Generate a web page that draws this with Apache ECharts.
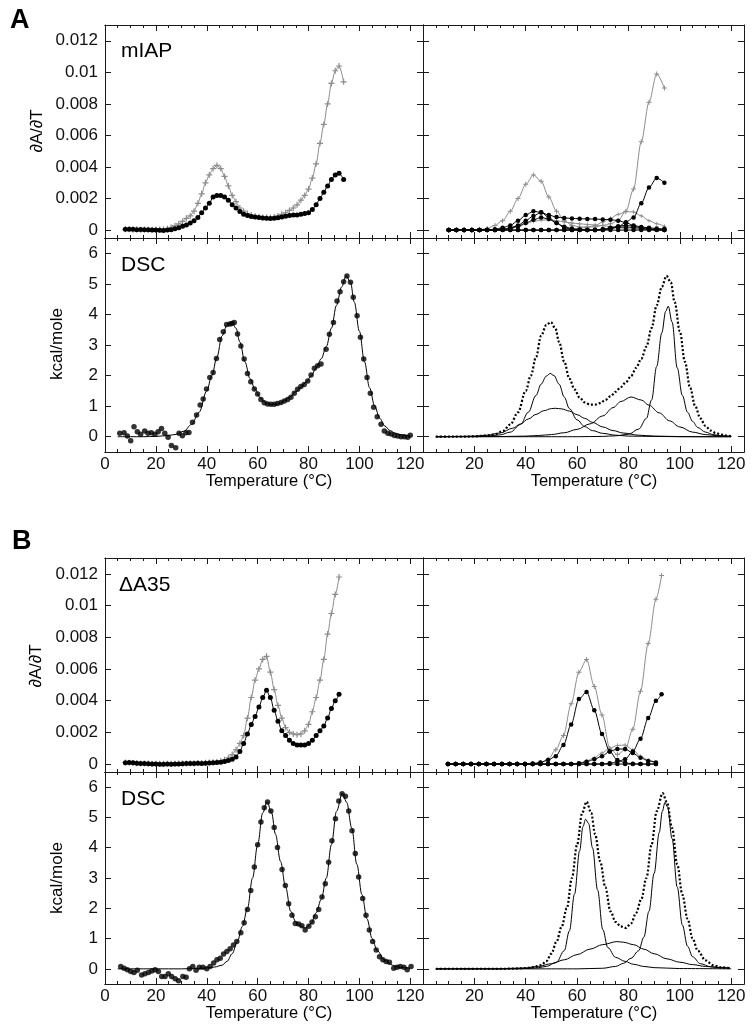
<!DOCTYPE html>
<html><head><meta charset="utf-8">
<script src="https://cdn.jsdelivr.net/npm/echarts@6/dist/echarts.min.js"></script>
<style>html,body{margin:0;padding:0;background:#fff}#c{width:755px;height:1032px}</style>
</head><body><div id="c"></div>
<script>
// ---------------- tick labels ----------------
const tempTicks = [0,20,40,60,80,100,120];
const tempLabelsRight = [20,40,60,80,100,120];
const tempMinor = [0,5,10,15,20,25,30,35,40,45,50,55,60,65,70,75,80,85,90,95,100,105,110,115,120,125];
const dadtTicks = [0,0.002,0.004,0.006,0.008,0.01,0.012];
const dscTicks = [0,1,2,3,4,5,6];

// ---------------- Panel A : scans (left) ----------------
const scanT_A = [8,9.5,11,12.5,14,15.5,17,18.5,20,21.5,23,24.5,26,27.5,29,30.5,32,33.5,35,36.5,38,39.5,41,42.5,44,45.5,47,48.5,50,51.5,53,54.5,56,57.5,59,60.5,62,63.5,65,66.5,68,69.5,71,72.5,74,75.5,77,78.5,80,81.5,83,84.5,86,87.5,89,90.5,92,93.8];
const scanBlack_A = [0.00005,0.00005,0.00006,0.00002,0.00004,0.00003,0.00003,0.00001,0.00001,-0.00001,
  -0.00002,0.00001,0.00003,0.00008,0.00015,0.00025,0.00033,0.00045,0.0006,0.0008,
  0.0011,0.0014,0.0017,0.0021,0.0022,0.0022,0.0021,0.0019,0.0016,0.0014,
  0.00118,0.001,0.00093,0.00087,0.00083,0.0008,0.00077,0.00075,0.00074,0.00075,
  0.00078,0.00083,0.00088,0.00093,0.00096,0.00096,0.001,0.00105,0.0011,0.0013,
  0.0016,0.002,0.0024,0.0028,0.0032,0.0035,0.0036,0.0032];
const scanGray_A = [0.00005,0.00005,0.00003,0.00005,0.00003,0.00004,0.00002,0.00003,0.00002,0.00004,
  0.00006,0.0001,0.00018,0.00028,0.0004,0.00055,0.00075,0.0009,0.0012,0.0017,
  0.0023,0.003,0.0035,0.0039,0.0041,0.0039,0.0034,0.0028,0.0022,0.0018,
  0.0014,0.0012,0.00105,0.00095,0.00088,0.00083,0.0008,0.0008,0.0008,0.00083,
  0.0009,0.001,0.0011,0.00125,0.0014,0.0016,0.0019,0.0022,0.0026,0.0033,
  0.0042,0.0055,0.0067,0.008,0.0093,0.0101,0.0104,0.0094];

// ---------------- Panel A : scan components (right) ----------------
const compT_A = [10,13,16,19,22,25,28,31,34,37,40,43,46,49,52,55,58,61,64,67,70,73,76,79,82,85,88,91,94];
const compFlat_A = [0,0,0,0,0,0,0,0,0,0,0,0,0,0,0,0,0,0,0,0,0,0,0,0,0,0,0,0,0];
const compGrayTotal_A = [0,0,0,0,0.00002,0.0001,0.0003,0.0006,0.0012,0.002,0.0029,0.0035,0.0031,0.0021,0.0012,0.0006,0.0003,0.0002,0.0002,0.0002,0.0003,0.0004,0.0006,0.0012,0.0026,0.0056,0.0081,0.0099,0.009];
const compBlackHigh_A = [0,0,0,0,0,0,0,0,0,0,0,0,0,0,0,0,0,0,0,0,0.00005,0.0001,0.0002,0.0005,0.0008,0.0017,0.0027,0.0033,0.003];
const compBlackA_A = [0,0,0,0,0,0.00002,0.00006,0.00015,0.0003,0.0006,0.00095,0.0012,0.00112,0.00095,0.00083,0.00077,0.00074,0.00072,0.00071,0.0007,0.00068,0.00066,0.0006,0.00047,0.0003,0.0002,0.00015,0.0001,0.00008];
const compBlackB_A = [0,0,0,0,0,0,0,0.00005,0.00015,0.0003,0.0006,0.0009,0.00113,0.0008,0.00045,0.00015,0.00005,0.00002,0,0,0.00005,0.00015,0.00025,0.0003,0.00025,0.00015,0.00008,0.00004,0];
const compBlackC_A = [0,0,0,0,0,0,0,0.00003,0.0001,0.00025,0.00045,0.00065,0.0008,0.0007,0.00045,0.00022,0.0001,0.00004,0,0,0,0.0001,0.00018,0.0002,0.00016,0.0001,0.00005,0.00002,0];
const compGray1_A = [0,0,0,0,0,0,0,0,0.0001,0.0002,0.0004,0.00055,0.00063,0.00065,0.0006,0.00052,0.00045,0.0004,0.00036,0.00032,0.00028,0.00022,0.00016,0.0001,0.00006,0.00004,0.00002,0,0];
const compGray2_A = [0,0,0,0,0,0,0,0,0,0,0,0,0,0,0,0,0.00005,0.0001,0.00018,0.0003,0.0005,0.00075,0.001,0.00117,0.00115,0.0009,0.0006,0.0004,0.00025];

// ---------------- Panel A : DSC ----------------
const dscT_A = [5.8,7.5,8.8,10.1,11.4,12.7,14,15.6,16.9,18.2,19.6,20.9,22.2,23.5,24.8,26.1,27.8,29.1,30.4,31.8,33,34.4,36,37.4,38.6,39.9,41.2,42.5,43.8,45.1,46.5,47.8,49.1,49.9,50.8,52.1,53.4,54.7,56,57.3,58.7,60,61.3,62.6,63.9,65.2,66.5,67.8,69.2,70.5,71.8,73.1,74.4,75.7,77,78.3,79.7,81,82.3,83.6,84.9,86.9,88.2,89.8,91.2,92.4,93.8,95.1,96.5,97.6,99.1,100.4,101.7,103,104.3,105.6,107,108.5,109.8,111.2,112.5,113.8,115.1,116.4,117.7,119,120];
const dscV_A = [0.11,0.13,0.02,-0.13,0.33,0.16,0.08,0.19,0.11,0.13,0.08,0.16,0.27,0.11,-0.02,-0.29,-0.36,0.11,0.03,0.13,0.14,0.47,0.71,1.04,1.23,1.56,1.94,2.1,2.56,3.18,3.43,3.67,3.69,3.7,3.74,3.36,2.97,2.54,2.07,1.8,1.56,1.4,1.22,1.11,1.07,1.06,1.06,1.09,1.12,1.17,1.22,1.29,1.42,1.55,1.64,1.71,1.82,2.02,2.24,2.32,2.38,2.86,3.35,3.74,4.44,4.74,5.07,5.26,5.05,4.56,3.96,3.25,2.54,1.94,1.42,0.96,0.65,0.41,0.19,0.11,0.09,0.04,0.02,0,0,-0.02,0.05];
const fitT_A = [5,10,15,20,25,28,31,34,37,40,42,44,46,48,49.8,51.5,53,55,57,59,61,63,65,67,69,71,73,75,77,79,81,83,85,87,89,91,93,94.8,96.5,98,100,102,104,106,108,110,112,114,116,118,120];
const fitV_A = [0,0,0,0.01,0.04,0.08,0.18,0.4,0.8,1.5,2.0,2.6,3.3,3.65,3.75,3.55,3.1,2.45,1.9,1.55,1.28,1.12,1.05,1.05,1.1,1.2,1.32,1.47,1.62,1.78,1.98,2.25,2.55,2.95,3.55,4.3,4.9,5.26,5.05,4.4,3.45,2.45,1.6,1.0,0.6,0.35,0.2,0.12,0.07,0.04,0.02];
const c1T_A = [5,20,25,30,34,38,41,44,46,48,49.5,51,53,55,57,60,63,66,70,75,80,90,100,120];
const c1V_A = [0,0.01,0.02,0.06,0.15,0.4,0.8,1.35,1.72,1.98,2.07,2.0,1.72,1.3,0.92,0.55,0.33,0.2,0.11,0.05,0.02,0.01,0,0];
const c2T_A = [5,15,20,25,30,35,38,41,44,47,50,51.5,54,57,60,63,66,70,74,78,84,90,100,110,120];
const c2V_A = [0,0.01,0.02,0.05,0.12,0.28,0.42,0.58,0.73,0.85,0.92,0.93,0.91,0.84,0.72,0.6,0.47,0.32,0.2,0.12,0.05,0.02,0.005,0,0];
const c3T_A = [5,30,40,45,50,55,60,65,70,74,77,81,85,88,92,96,100,105,110,115,120];
const c3V_A = [0,0.005,0.02,0.04,0.07,0.13,0.24,0.42,0.68,0.95,1.15,1.3,1.2,1.03,0.78,0.52,0.32,0.15,0.07,0.03,0.01];
const c4T_A = [5,60,70,75,80,84,87,89,91,93,94.5,95.5,97,99,101,103,105,107,110,113,116,120];
const c4V_A = [0,0,0.01,0.03,0.08,0.25,0.6,1.2,2.3,3.4,4.1,4.27,3.75,2.25,1.35,0.8,0.5,0.3,0.15,0.07,0.03,0.01];

// ---------------- Panel B : scans (left) ----------------
const scanT_B = [8,9.5,11,12.5,14,15.5,17,18.5,20,21.5,23,24.5,26,27.5,29,30.5,32,33.5,35,36.5,38,39.5,41,42.5,44,45.5,47,48.5,50,51.5,53,54.5,56,57.5,59,60.5,62,63.5,65,66.5,68,69.5,71,72.5,74,75.5,77,78.5,80,81.5,83,84.5,86,87.5,89,90.5,92];
const scanBlack_B = [0.00008,0.0001,0.00008,0.00005,0.00004,0.00003,0.00002,0.00001,0,-0.00001,
  -0.00001,0,-0.00001,0,0.00001,0.00002,0.00003,0.00004,0.00004,0.00005,
  0.00004,0.00005,0.00006,0.00008,0.0001,0.00012,0.00016,0.00022,0.0003,0.00045,
  0.0008,0.0013,0.0019,0.0025,0.003,0.0036,0.0042,0.00465,0.0042,0.0034,
  0.0027,0.0021,0.0018,0.0015,0.0013,0.0012,0.0012,0.0012,0.0013,0.0015,
  0.0018,0.0021,0.0024,0.0029,0.0035,0.004,0.0044];
const scanGray_B = [0.0001,0.00008,0.00006,0.00005,0.00004,0.00003,0.00003,0.00002,0.00002,0.00002,
  0.00002,0.00002,0.00002,0.00002,0.00003,0.00003,0.00004,0.00005,0.00005,0.00006,
  0.00007,0.00008,0.0001,0.00012,0.00015,0.0002,0.00028,0.0004,0.0006,0.0009,
  0.0013,0.0018,0.0029,0.0042,0.0053,0.006,0.0066,0.0068,0.0058,0.0047,
  0.0037,0.0029,0.0023,0.002,0.0019,0.00185,0.0019,0.0021,0.0025,0.0033,
  0.0042,0.0053,0.0066,0.0082,0.0095,0.0107,0.0118];

// ---------------- Panel B : scan components (right) ----------------
const compT_B = [9.7,12.7,15.7,18.7,21.7,24.7,27.7,30.7,33.7,36.7,39.7,42.7,45.7,48.7,51.7,54.7,57.7,60.7,63.7,66.7,69.7,72.7,75.7,78.7,81.7,84.7,87.7,90.7];
const compTEnd_B = [9.7,12.7,15.7,18.7,21.7,24.7,27.7,30.7,33.7,36.7,39.7,42.7,45.7,48.7,51.7,54.7,57.7,60.7,63.7,66.7,69.7,72.7,75.7,78.7,81.7,84.7,87.7,90.7,92.9];
const compFlat_B = [0,0,0,0,0,0,0,0,0,0,0,0,0,0,0,0,0,0,0,0,0,0,0,0,0,0,0,0];
const compGrayTotal_B = [0,0,0,0,0,0,0,0,0,0,0,0,0.0001,0.0003,0.0009,0.0018,0.0038,0.0058,0.0066,0.0049,0.0031,0.001,0.0006,0.0009,0.0022,0.0046,0.0076,0.0104,0.0119];
const compBlack1_B = [0,0,0,0,0,0,0,0,0,0,0,0.00003,0.0001,0.00025,0.0005,0.0012,0.0025,0.0041,0.00455,0.0034,0.0019,0.0008,0.00025,0.00008,0.00002,0,0,0];
const compBlack3_B = [0,0,0,0,0,0,0,0,0,0,0,0,0,0,0,0,0,0,0,0,0,0.00005,0.00015,0.0003,0.0008,0.0016,0.0029,0.004,0.0044];
const compBlack2_B = [0,0,0,0,0,0,0,0,0,0,0,0,0,0,0,0,0,0.00005,0.00015,0.0003,0.0005,0.0008,0.00095,0.00095,0.0007,0.0004,0.0002,0.0001];
const compGray_B = [0,0,0,0,0,0,0,0,0,0,0,0,0,0,0,0,0,0.00005,0.0002,0.0004,0.0007,0.001,0.00118,0.0012,0.0009,0.0005,0.00025,0.0001];

// ---------------- Panel B : DSC ----------------
const dscT_B = [6.2,7.5,8.8,10.1,11.4,12.7,14.4,15.7,17.1,18.4,19.7,21,22.3,23.6,24.9,26.2,27.6,28.9,30.6,31.9,33.2,34.5,35.8,37.1,38.5,40,41.3,42.7,44,45.3,46.6,47.9,49.2,50.5,51.8,53.4,54.7,56,57.3,58.7,60,61.3,62.6,63.9,65.2,66.5,67.8,69.6,70.9,72.2,73.5,74.8,76.1,77.4,78.7,80.1,81.4,82.7,84,85.3,86.6,87.9,89.2,90.6,91.9,93.2,94.5,95.8,97.1,98.4,99.7,101.3,102.6,103.9,105.2,106.6,107.9,109.2,110.5,111.8,113.5,114.8,116.1,117.5,118.8,120.3];
const dscV_B = [0.08,0.02,-0.03,-0.09,-0.12,-0.05,-0.2,-0.16,-0.12,-0.07,-0.03,-0.09,-0.25,-0.25,-0.16,-0.25,-0.33,-0.39,-0.25,-0.28,0,0.08,-0.05,0.05,0.05,0,0.08,0.19,0.3,0.35,0.49,0.57,0.66,0.79,0.9,1.19,1.52,1.96,2.59,3.36,4.1,4.85,5.32,5.51,5.21,4.67,4.01,3.28,2.75,2.15,1.77,1.5,1.48,1.42,1.28,1.41,1.55,1.72,1.96,2.37,2.81,3.52,4.23,4.96,5.54,5.78,5.7,5.21,4.56,3.81,3.03,2.32,1.77,1.28,0.9,0.62,0.4,0.3,0.24,0.22,0.02,0.05,0.08,0.05,-0.03,0.08];
const fitT_B = [5,10,20,30,36,40,43,46,48,50,52,54,56,58,60,62,63.7,65.5,67,69,71,73,75,77,79,81,83,85,87,89,91,93.3,95,97,99,101,103,105,107,110,113,116,120];
const fitV_B = [0,0,0,0,0.01,0.03,0.06,0.12,0.25,0.5,0.9,1.4,2.0,3.0,4.1,5.15,5.52,5.15,4.45,3.55,2.7,1.9,1.55,1.4,1.35,1.5,1.85,2.3,3.0,4.1,5.2,5.8,5.5,4.65,3.45,2.45,1.65,1.0,0.6,0.28,0.12,0.05,0.02];
const c1T_B = [5,30,40,45,48,52,55,57,59,61,62.3,63.3,64.5,66,68,70,72,75,78.6,82,86,90,100,120];
const c1V_B = [0,0,0.01,0.04,0.08,0.22,0.6,1.25,2.47,3.9,4.7,4.94,4.8,4.0,2.6,1.3,0.7,0.38,0.25,0.15,0.08,0.04,0.01,0];
const c2T_B = [5,30,40,45,50,55,60,65,70,75.5,78,82,86,90,95,100,105,110,115,119.5];
const c2V_B = [0,0.005,0.03,0.08,0.17,0.3,0.47,0.65,0.8,0.9,0.88,0.8,0.65,0.5,0.33,0.22,0.14,0.08,0.05,0.03];
const c3T_B = [5,60,70,75,78,81,84,86,88,90,92,93.2,94.2,95.2,97,99,101,103,105,108,112,116,119.5];
const c3V_B = [0,0,0.02,0.08,0.18,0.35,0.6,1.05,1.9,3.15,4.5,5.2,5.49,5.35,4.3,2.7,1.45,0.75,0.4,0.17,0.07,0.03,0.02];

// ---------------- build ----------------
const FONT = '"Liberation Sans", Arial, Helvetica, sans-serif';
const AX = '#1a1a1a';
const GRAY = '#8c8c8c';
const PLUS = 'path://M4,0H6V4H10V6H6V10H4V6H0V4H4Z';
const pairs = (xs, ys) => xs.map((x, i) => [x, ys[i]]);

const boxes = [
  {left:105, top:25,  width:318, height:213, kind:'scan', col:0, bottomRow:false},
  {left:423, top:25,  width:321, height:213, kind:'scan', col:1, bottomRow:false},
  {left:105, top:238, width:318, height:214, kind:'dsc',  col:0, bottomRow:true},
  {left:423, top:238, width:321, height:214, kind:'dsc',  col:1, bottomRow:true},
  {left:105, top:558, width:318, height:214, kind:'scan', col:0, bottomRow:false},
  {left:423, top:558, width:321, height:214, kind:'scan', col:1, bottomRow:false},
  {left:105, top:772, width:318, height:212, kind:'dsc',  col:0, bottomRow:true},
  {left:423, top:772, width:321, height:212, kind:'dsc',  col:1, bottomRow:true}
];
const grid = [], xAxis = [], yAxis = [];
const labelStyle = {color:'#111', fontSize:17, fontFamily:FONT};
boxes.forEach(b => grid.push({left:b.left, top:b.top, width:b.width, height:b.height, containLabel:false, outerBoundsMode:'none'}));
boxes.forEach(b => grid.push({left:b.left, top:b.top, width:b.width, height:b.height, containLabel:false, outerBoundsMode:'none'}));
const yMin = b => b.kind === 'scan' ? -0.0005 : -0.5;
const yMax = b => b.kind === 'scan' ? 0.013 : 6.5;
boxes.forEach((b, i) => {
  const isScan = b.kind === 'scan';
  ['bottom','top'].forEach(pos => {
    xAxis.push({
      type:'value', gridIndex:i, position:pos, min:0, max:125,
      axisLine:{show:true, onZero:false, lineStyle:{color:AX, width:1}},
      axisTick:{show:true, inside:true, length:6, customValues:tempTicks, lineStyle:{color:AX, width:1}},
      axisLabel:{show: pos==='bottom' && b.bottomRow, customValues: b.col===0 ? tempTicks : tempLabelsRight,
        margin:4, ...labelStyle},
      splitLine:{show:false}
    });
  });
  ['left','right'].forEach(pos => {
    yAxis.push({
      type:'value', gridIndex:i, position:pos, min:yMin(b), max:yMax(b),
      axisLine:{show:true, onZero:false, lineStyle:{color:AX, width:1}},
      axisTick:{show:true, inside:true, length:6, customValues: isScan ? dadtTicks : dscTicks, lineStyle:{color:AX, width:1}},
      axisLabel:{show: pos==='left' && b.col===0, customValues: isScan ? dadtTicks : dscTicks,
        margin:7, formatter: v => String(Number(v.toFixed(4))), ...labelStyle},
      splitLine:{show:false}
    });
  });
});
// overlay grids (same boxes): minor ticks every 5 degrees
boxes.forEach((b, i) => {
  ['bottom','top'].forEach(pos => {
    xAxis.push({
      type:'value', gridIndex:8+i, position:pos, min:0, max:125,
      axisLine:{show:true, onZero:false, lineStyle:{color:AX, width:1}},
      axisTick:{show:true, inside:true, length:3, customValues:tempMinor, lineStyle:{color:AX, width:1}},
      axisLabel:{show:false}, splitLine:{show:false}
    });
  });
  yAxis.push({type:'value', gridIndex:8+i, min:yMin(b), max:yMax(b),
    axisLine:{show:false, onZero:false}, axisTick:{show:false}, axisLabel:{show:false}, splitLine:{show:false}});
});

const series = [];
// overlay=true binds a series to the identical overlay grid (same box and scales)
function ax(gi, overlay) { return overlay ? {xAxisIndex:16+2*gi, yAxisIndex:16+gi} : {xAxisIndex:2*gi, yAxisIndex:2*gi}; }
function blackDots(gi, xs, ys, size, ov) {
  series.push({type:'line', ...ax(gi, ov), data:pairs(xs, ys), smooth:0.3, smoothMonotone:'x',
    symbol:'circle', symbolSize:size, showSymbol:true,
    itemStyle:{color:'#000'}, lineStyle:{color:'#000', width:1}, z:4});
}
function grayPlus(gi, xs, ys, size, ov) {
  series.push({type:'line', ...ax(gi, ov), data:pairs(xs, ys), smooth:0.3, smoothMonotone:'x',
    symbol:PLUS, symbolSize:size, showSymbol:true,
    itemStyle:{color:GRAY}, lineStyle:{color:GRAY, width:1}, z:3});
}
function solidLine(gi, xs, ys, ov) {
  series.push({type:'line', ...ax(gi, ov), data:pairs(xs, ys), smooth:0.35, smoothMonotone:'x',
    symbol:'none', lineStyle:{color:'#000', width:1}, z:3});
}
function dottedLine(gi, xs, ys, ov) {
  series.push({type:'line', ...ax(gi, ov), data:pairs(xs, ys), smooth:0.35, smoothMonotone:'x',
    symbol:'none', lineStyle:{color:'#000', width:2.2, type:[2,2]}, z:4});
}
function dataDots(gi, xs, ys, ov) {
  series.push({type:'scatter', ...ax(gi, ov), data:pairs(xs, ys), symbol:'circle', symbolSize:5.5,
    itemStyle:{color:'#000'}, z:5});
}

// A top-left
grayPlus(0, scanT_A, scanGray_A, 6, true);
blackDots(0, scanT_A, scanBlack_A, 5);
// A top-right
grayPlus(1, compT_A, compGrayTotal_A, 5, true);
grayPlus(1, compT_A, compGray1_A, 4);
grayPlus(1, compT_A, compGray2_A, 4);
blackDots(1, compT_A, compFlat_A, 4.5);
blackDots(1, compT_A, compBlackA_A, 4.5);
blackDots(1, compT_A, compBlackB_A, 4.5);
blackDots(1, compT_A, compBlackC_A, 4.5);
blackDots(1, compT_A, compBlackHigh_A, 4.5);
// A bottom-left
solidLine(2, fitT_A, fitV_A, true);
dataDots(2, dscT_A, dscV_A);
// A bottom-right
solidLine(3, c1T_A, c1V_A, true);
solidLine(3, c2T_A, c2V_A);
solidLine(3, c3T_A, c3V_A);
solidLine(3, c4T_A, c4V_A);
dottedLine(3, fitT_A, fitV_A);
// B top-left
grayPlus(4, scanT_B, scanGray_B, 6, true);
blackDots(4, scanT_B, scanBlack_B, 5);
// B top-right
grayPlus(5, compTEnd_B, compGrayTotal_B, 5, true);
grayPlus(5, compT_B, compGray_B, 4);
blackDots(5, compT_B, compFlat_B, 4.5);
blackDots(5, compT_B, compBlack1_B, 4.5);
blackDots(5, compT_B, compBlack2_B, 4.5);
blackDots(5, compTEnd_B, compBlack3_B, 4.5);
// B bottom-left
solidLine(6, fitT_B, fitV_B, true);
dataDots(6, dscT_B, dscV_B);
// B bottom-right
solidLine(7, c1T_B, c1V_B, true);
solidLine(7, c2T_B, c2V_B);
solidLine(7, c3T_B, c3V_B);
dottedLine(7, fitT_B, fitV_B);

function txt(x, y, text, size, opts) {
  return Object.assign({type:'text', x:x, y:y, z:100, silent:true,
    style:{text:text, fill:'#000', font:(opts && opts.bold ? 'bold ' : '') + size + 'px ' + FONT,
      textAlign:(opts && opts.align) || 'left', textVerticalAlign:'middle', verticalAlign:'middle'}},
    opts && opts.rot ? {rotation:Math.PI/2} : {});
}
const graphic = [
  txt(10, 21, 'A', 27, {bold:true}),
  txt(12, 542, 'B', 27, {bold:true}),
  txt(121, 51, 'mIAP', 21),
  txt(121, 265, 'DSC', 21),
  txt(119, 585, 'ΔA35', 21),
  txt(121, 799, 'DSC', 21),
  txt(37, 131, '∂A/∂T', 17, {align:'center', rot:true}),
  txt(36, 666, '∂A/∂T', 17, {align:'center', rot:true}),
  txt(57.5, 344, 'kcal/mole', 17, {align:'center', rot:true}),
  txt(57.5, 878, 'kcal/mole', 17, {align:'center', rot:true}),
  txt(269, 481, 'Temperature (°C)', 16.5, {align:'center'}),
  txt(594, 481, 'Temperature (°C)', 16.5, {align:'center'}),
  txt(269, 1013, 'Temperature (°C)', 16.5, {align:'center'}),
  txt(594, 1013, 'Temperature (°C)', 16.5, {align:'center'})
];

const chart = echarts.init(document.getElementById('c'), null, {renderer:'canvas'});
chart.setOption({
  animation:false,
  backgroundColor:'#fff',
  textStyle:{fontFamily:FONT},
  grid, xAxis, yAxis, series, graphic
});
</script>
</body></html>
